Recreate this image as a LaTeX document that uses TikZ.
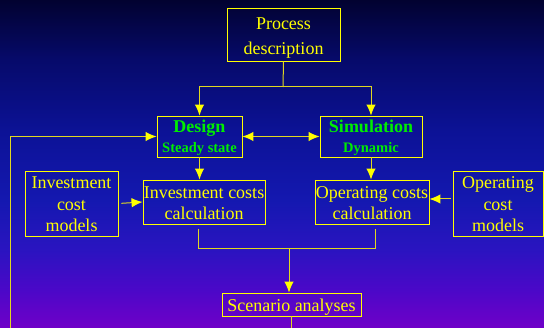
\documentclass[tikz,border=0pt]{standalone}
\usepackage{fontspec}
\setmainfont{Liberation Serif}
\usetikzlibrary{arrows.meta}
\definecolor{bgA}{HTML}{7000C8}
\definecolor{bgB}{HTML}{4A08C8}
\definecolor{bgC}{HTML}{2A14C0}
\definecolor{bgD}{HTML}{1418B0}
\definecolor{bgE}{HTML}{0C1296}
\definecolor{bgF}{HTML}{060A6A}
\definecolor{bgG}{HTML}{020230}
\definecolor{txtY}{HTML}{FFFF00}
\definecolor{txtG}{HTML}{00EE00}
\definecolor{lineY}{HTML}{E0D820}
\pgfdeclareverticalshading{bgshade}{100bp}{color(0bp)=(bgA); color(25bp)=(bgA); color(31bp)=(bgB); color(37bp)=(bgC); color(44.5bp)=(bgD); color(55bp)=(bgE); color(66bp)=(bgF); color(75bp)=(bgG); color(100bp)=(bgG)}
\newcommand\topst[1]{\rule{0pt}{#1}}
\newcommand\botst{\rule[-4pt]{0pt}{0pt}}
\tikzset{
  boxn/.style={draw=txtY, line width=0.95pt, text=txtY, inner sep=0pt, align=center, font=\fontsize{18}{21}\selectfont},
  conn/.style={draw=lineY, line width=1pt},
  arr/.style={conn, -{Latex[length=11pt,width=9.5pt,color=txtY]}},
  darr/.style={conn, {Latex[length=11pt,width=9.5pt,color=txtY]}-{Latex[length=11pt,width=9.5pt,color=txtY]}},
}
\begin{document}
\begin{tikzpicture}[x=1pt,y=-1pt]
\shade[shading=bgshade] (0,0) rectangle (544,328);
\useasboundingbox (0,0) rectangle (544,328);
% nodes
\node[boxn, minimum width=113pt, minimum height=53pt, font=\fontsize{18}{25}\selectfont] (proc) at (283.5,34.5) {\topst{20pt}Process\\description\botst};
\node[boxn, minimum width=85pt, minimum height=41pt, text=txtG] (design) at (199.5,136.5) {\topst{17pt}\textbf{Design}\\[-1pt]{\fontsize{14.5}{17}\selectfont\textbf{Steady state}}\botst};
\node[boxn, minimum width=102pt, minimum height=41pt, text=txtG] (sim) at (371,136.5) {\topst{17pt}\textbf{Simulation}\\[-1pt]{\fontsize{14.5}{17}\selectfont\textbf{Dynamic}}\botst};
\node[boxn, minimum width=93pt, minimum height=65pt, font=\fontsize{18}{21.5}\selectfont] (invm) at (71.5,203.5) {\topst{18pt}Investment\\cost\\models\botst};
\node[boxn, minimum width=122pt, minimum height=44pt] (invc) at (204,202) {\topst{19pt}Investment costs\\calculation\botst};
\node[boxn, minimum width=114pt, minimum height=44pt] (opc) at (372,202) {\topst{19pt}Operating costs\\calculation\botst};
\node[boxn, minimum width=90pt, minimum height=65pt, font=\fontsize{18}{21.5}\selectfont] (opm) at (498,203.5) {\topst{18pt}Operating\\cost\\models\botst};
\node[boxn, minimum width=139pt, minimum height=23pt] (scen) at (291.5,304.5) {\topst{19pt}Scenario analyses\botst};
% coordinates
\coordinate (fork) at (283,87);
\coordinate (fb) at (10,328);
\coordinate (merge) at (289,249);
\coordinate (bot) at (291,328);
% connectors
\draw[conn] (proc.south) -- (fork);
\draw[arr] (fork) -| (design.north);
\draw[arr] (fork) -| (sim.north);
\draw[darr] (design.east) -- (sim.west);
\draw[arr] (fb) |- (design.west);
\draw[arr] (design.south) -- (design.south |- invc.north);
\draw[arr] (sim.south) -- (sim.south |- opc.north);
\draw[arr, shorten <=3pt] (invm.east) -- (invc.west);
\draw[arr, shorten <=2pt] (opm.west |- 0,199) -- (opc.east |- 0,199);
\draw[conn] ([xshift=-6pt,yshift=-5pt]invc.south) |- (merge);
\draw[conn] ([xshift=3pt,yshift=-5pt]opc.south) |- (merge);
\draw[arr] (merge) -- (merge |- scen.north);
\draw[conn] (scen.south -| bot) -- (bot);
\end{tikzpicture}
\end{document}
